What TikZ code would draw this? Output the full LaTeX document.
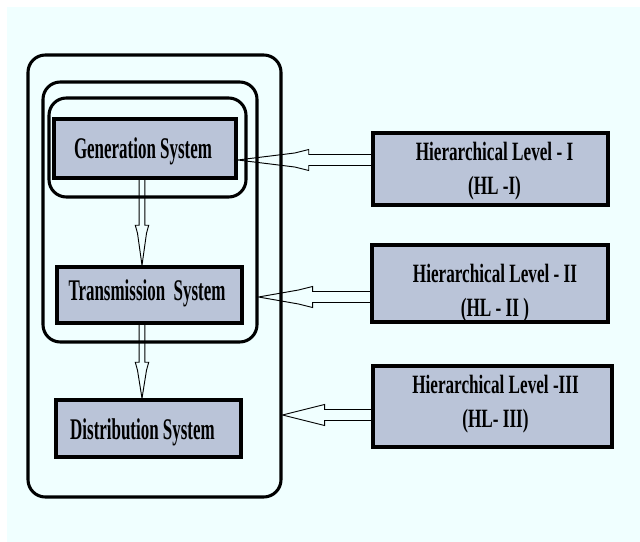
\documentclass[tikz,border=0pt]{standalone}
\usepackage{fontspec}
\setmainfont{Liberation Serif}
% condensed bold serif faces for the box labels
\newfontfamily\sysfont{Liberation Serif}[FakeStretch=0.565]
\newfontfamily\levelfont{Liberation Serif}[FakeStretch=0.65]
\usetikzlibrary{calc,fit}
\definecolor{paper}{RGB}{240,255,255}
\definecolor{boxfill}{RGB}{186,196,216}

% hollow block arrow pointing left: tail, tip, head length
\newcommand\hollowleft[3]{%
  \draw[hollow] ($(#1)+(0,-5.5)$) -- ($(#2)+(#3,-5.5)$) -- ($(#2)+(#3,-10.5)$)
    -- ($(#2)+({#3-14},-7)$) -- (#2) -- ($(#2)+({#3-14},7)$)
    -- ($(#2)+(#3,10.5)$) -- ($(#2)+(#3,5.5)$) -- ($(#1)+(0,5.5)$);
}
% hollow block arrow pointing down: tail, tip, head length
\newcommand\hollowdown[3]{%
  \draw[hollow] ($(#1)+(-2.8,0)$) -- ($(#2)+(-2.8,-#3)$) -- ($(#2)+(-6.7,-#3)$)
    -- ($(#2)+(-4.5,{-#3+8})$) -- (#2) -- ($(#2)+(4.5,{-#3+8})$)
    -- ($(#2)+(6.7,-#3)$) -- ($(#2)+(2.8,-#3)$) -- ($(#1)+(2.8,0)$);
}

\begin{document}
\begin{tikzpicture}[x=0.75pt,y=-0.75pt,
  frame/.style={draw, line width=2.3pt, rounded corners=13pt, inner sep=0pt},
  sysbox/.style={draw, fill=boxfill, line width=2.6pt, inner sep=0pt},
  levelbox/.style={draw, fill=boxfill, line width=2.6pt, inner sep=0pt},
  systext/.style={anchor=base, inner sep=0pt,
    font=\sysfont\bfseries\fontsize{22.5}{27}\selectfont},
  leveltext/.style={inner sep=0pt, align=center,
    font=\levelfont\bfseries\fontsize{19.8}{25.5}\selectfont},
  hollow/.style={line width=0.7pt, line join=miter}]

% page and background
\useasboundingbox (0,0) rectangle (640,542);
\fill[white] (0,0) rectangle (640,542);
\fill[paper] (7,7) rectangle (640,542);

% nested enclosures
\node[frame, fit={(28,55)(281,497)}] (outer) {};
\node[frame, fit={(43,82)(257,342)}] (middle) {};
\node[frame, fit={(49,98)(246,197)}] (inner) {};

% system blocks
\node[sysbox, fit={(54,119)(236,178)}] (gen) {};
\node[sysbox, fit={(57,267)(242,323)}] (trans) {};
\node[sysbox, fit={(56,400)(241,457)}] (dist) {};
\node[systext] (gentext) at ($(gen.center)+(-2,10.5)$) {Generation System};
\node[systext] (transtext) at ($(trans.center)+(-2.5,5.5)$) {Transmission~~System};
\node[systext] (disttext) at ($(dist.center)+(-6,10.5)$) {Distribution System};

% hierarchical levels
\node[levelbox, fit={(373,133)(608,205)}] (hl1) {};
\node[levelbox, fit={(372,245)(608,322)}] (hl2) {};
\node[levelbox, fit={(373,366)(612,447)}] (hl3) {};
\node[leveltext] (hl1text) at ($(hl1.center)+(4,2)$) {Hierarchical Level - I\\(HL -I)};
\node[leveltext] (hl2text) at ($(hl2.center)+(5,10)$) {Hierarchical Level - II\\(HL - II )};
\node[leveltext] (hl3text) at ($(hl3.center)+(3,-2.5)$) {Hierarchical Level -III\\(HL- III)};

% arrow lines
\coordinate (y1) at (0,160);
\coordinate (y2) at (0,297);
\coordinate (y3) at (0,415);
\coordinate (xv) at (142,0);

\coordinate (tail1) at (hl1.west |- y1);
\coordinate (tip1) at (gen.east |- y1);
\coordinate (tail2) at (hl2.west |- y2);
\coordinate (tip2) at (middle.east |- y2);
\coordinate (tail3) at (hl3.west |- y3);
\coordinate (tip3) at (outer.east |- y3);

\coordinate (tailv1) at (xv |- gen.south);
\coordinate (tipv1) at (xv |- trans.north);
\coordinate (tailv2) at (xv |- trans.south);
\coordinate (tipv2) at (xv |- dist.north);

\hollowleft{tail1}{tip1}{71}
\hollowleft{tail2}{tip2}{54}
\hollowleft{tail3}{tip3}{42}
\hollowdown{tailv1}{tipv1}{40}
\hollowdown{tailv2}{tipv2}{36}
\end{tikzpicture}
\end{document}
